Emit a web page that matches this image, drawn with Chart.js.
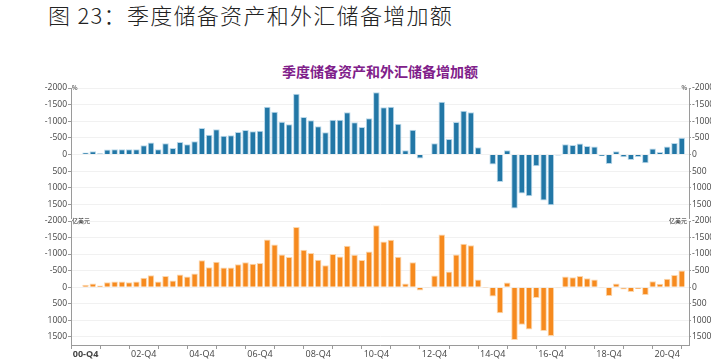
<!DOCTYPE html>
<html>
<head>
<meta charset="utf-8">
<script src="https://cdn.jsdelivr.net/npm/chart.js@4.4.1/dist/chart.umd.min.js"></script>
<style>
  body { margin: 0; background: #fff; width: 711px; height: 360px; overflow: hidden; position: relative; }
  #hdr { position: absolute; left: 48px; top: -2px; font: 300 22px "Noto Sans CJK SC"; letter-spacing: 1.3px; color: #222; white-space: nowrap; }
  #ttl { position: absolute; left: 0; width: 760px; top: 61px; text-align: center; font: bold 14px "Noto Sans CJK SC"; color: #80208a; }
  canvas { position: absolute; left: 0; }
</style>
</head>
<body>
<div id="hdr">图 23：季度储备资产和外汇储备增加额</div>
<div id="ttl">季度储备资产和外汇储备增加额</div>
<canvas id="top" width="711" height="141" style="top:78px"></canvas>
<canvas id="bot" width="711" height="146" style="top:214px"></canvas>
<script>
// quarters, 00-Q3 .. 21-Q2
const quarters = [
  '00-Q3', '00-Q4',
  '01-Q1', '01-Q2', '01-Q3', '01-Q4', '02-Q1', '02-Q2', '02-Q3', '02-Q4',
  '03-Q1', '03-Q2', '03-Q3', '03-Q4', '04-Q1', '04-Q2', '04-Q3', '04-Q4',
  '05-Q1', '05-Q2', '05-Q3', '05-Q4', '06-Q1', '06-Q2', '06-Q3', '06-Q4',
  '07-Q1', '07-Q2', '07-Q3', '07-Q4', '08-Q1', '08-Q2', '08-Q3', '08-Q4',
  '09-Q1', '09-Q2', '09-Q3', '09-Q4', '10-Q1', '10-Q2', '10-Q3', '10-Q4',
  '11-Q1', '11-Q2', '11-Q3', '11-Q4', '12-Q1', '12-Q2', '12-Q3', '12-Q4',
  '13-Q1', '13-Q2', '13-Q3', '13-Q4', '14-Q1', '14-Q2', '14-Q3', '14-Q4',
  '15-Q1', '15-Q2', '15-Q3', '15-Q4', '16-Q1', '16-Q2', '16-Q3', '16-Q4',
  '17-Q1', '17-Q2', '17-Q3', '17-Q4', '18-Q1', '18-Q2', '18-Q3', '18-Q4',
  '19-Q1', '19-Q2', '19-Q3', '19-Q4', '20-Q1', '20-Q2', '20-Q3', '20-Q4',
  '21-Q1', '21-Q2'
];

// 储备资产 (negative = increase)
const reserveAssets = [
  -20, -60, -100, -40, -150, -160, -160, -160, -160, -280,
  -360, -160, -340, -200, -380, -310, -400, -800, -600, -760,
  -570, -580, -680, -740, -700, -720, -1440, -1290, -990, -910,
  -1830, -1130, -1030, -850, -670, -1050, -1050, -1270, -970, -830,
  -1090, -1870, -1420, -1440, -930, -130, -750, 120, 10, -340,
  -1590, -470, -980, -1320, -1270, -220, 10, 300, 820, -130,
  1620, 1170, 1250, 350, 1380, 1520, 30, -310, -290, -330,
  -260, -240, 50, 280, -100, 80, 160, 70, 260, -180,
  -80, -240, -350, -510
];

// 外汇储备
const fxReserves = [
  -10, -70, -110, -50, -150, -170, -170, -150, -170, -280,
  -360, -170, -340, -200, -380, -320, -410, -810, -600, -770,
  -590, -590, -690, -750, -710, -730, -1440, -1290, -990, -910,
  -1820, -1130, -1030, -830, -660, -1000, -930, -1250, -980, -820,
  -1080, -1870, -1380, -1430, -920, -110, -750, 100, 10, -350,
  -1590, -470, -990, -1310, -1270, -230, 5, 280, 790, -140,
  1600, 1140, 1280, 330, 1330, 1480, 30, -320, -300, -340,
  -270, -230, 30, 270, -110, 70, 150, 60, 240, -180,
  -100, -250, -370, -500
];

// y tick labels
const yTicks = [-2000, -1500, -1000, -500, 0, 500, 1000, 1500];
const yMin = -2000, yMax = 1750;
const tickEvery = 4, labelEvery = 8, firstLabel = 1;

const unitPlugin = {
  id: 'unit',
  afterDraw(chart, args, opts) {
    const { ctx, chartArea } = chart;
    ctx.save();
    ctx.font = '6px "Noto Sans CJK SC"';
    ctx.fillStyle = '#222';
    ctx.textBaseline = 'middle';
    ctx.textAlign = 'left';
    ctx.fillText(opts.text, chartArea.left + 1, chartArea.top);
    ctx.textAlign = 'right';
    ctx.fillText(opts.text, chartArea.right - 2, chartArea.top);
    // axis lines run on past the panel so the two panels join up
    if (opts.join) {
      ctx.strokeStyle = '#9a9a9a';
      ctx.lineWidth = 1;
      ctx.beginPath();
      [chartArea.left, chartArea.right].forEach(x => {
        ctx.moveTo(Math.round(x) + 0.5, chartArea.bottom);
        ctx.lineTo(Math.round(x) + 0.5, chart.height);
      });
      ctx.stroke();
    }
    ctx.restore();
  }
};

function yScale(pos) {
  return {
    position: pos,
    reverse: true,
    min: yMin,
    max: yMax,
    afterBuildTicks: s => { s.ticks = yTicks.map(v => ({ value: v })); },
    afterFit: s => { s.width = pos === 'left' ? 71 : 22; },
    border: { color: '#9a9a9a' },
    grid: {
      color: '#f1f1f1',
      tickColor: '#9a9a9a',
      tickLength: pos === 'left' ? 3 : 2,
      drawOnChartArea: pos === 'left'
    },
    ticks: {
      color: '#444',
      padding: 1,
      font: { size: 8.5, family: 'Open Sans' },
      callback: v => String(v)
    }
  };
}

function renderPanel(el, values, color, edge, unit, showX, pad) {
  return new Chart(el, {
    type: 'bar',
    data: {
      datasets: [{
        data: values.map((v, i) => ({ x: i, y: v })),
        backgroundColor: color,
        borderColor: edge,
        borderWidth: 1,
        barPercentage: 0.9,
        categoryPercentage: 1
      }]
    },
    options: {
      responsive: false,
      animation: false,
      layout: { padding: pad },
      plugins: {
        legend: { display: false },
        tooltip: { enabled: false },
        unit: { text: unit, join: !showX }
      },
      scales: {
        x: {
          type: 'linear',
          display: showX,
          offset: false,
          min: -1,
          max: values.length,
          afterBuildTicks: s => {
            const t = [];
            for (let i = firstLabel; i < values.length; i += tickEvery) t.push({ value: i });
            s.ticks = t;
          },
          afterFit: s => { if (showX) s.height = 15; },
          border: { color: '#9a9a9a' },
          grid: { drawOnChartArea: false, tickColor: '#9a9a9a', tickLength: 4 },
          ticks: {
            autoSkip: false,
            maxRotation: 0,
            padding: 0,
            color: '#444',
            font: c => ({ size: 9, family: 'Open Sans', weight: c.tick && c.tick.value === firstLabel ? 'bold' : 'normal' }),
            callback: v => ((v - firstLabel) % labelEvery === 0 ? quarters[v] : '')
          }
        },
        y: yScale('left'),
        y2: yScale('right')
      }
    },
    plugins: [unitPlugin]
  });
}

renderPanel(document.getElementById('top'), reserveAssets, '#2277a6', '#b9d8ea', '%', false,
  { top: 10, bottom: 6, left: 0, right: 0 });
renderPanel(document.getElementById('bot'), fxReserves, '#f68a1e', '#fcd6ac', '亿美元', true,
  { top: 7, bottom: 0, left: 0, right: 0 });
</script>
</body>
</html>
